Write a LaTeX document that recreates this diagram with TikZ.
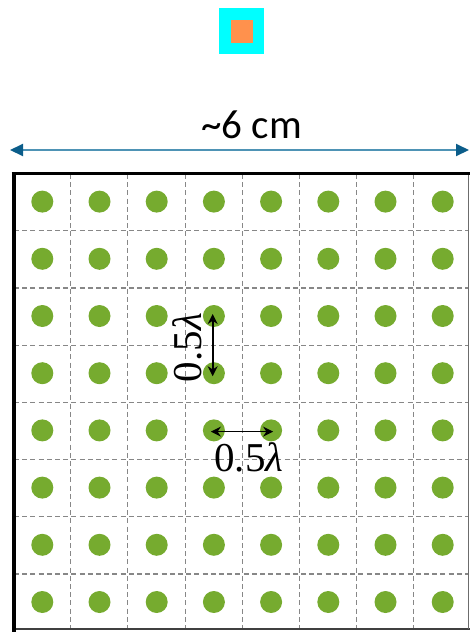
\documentclass[tikz,border=0pt]{standalone}
\usepackage{fontspec}
\usetikzlibrary{arrows.meta}
\newfontfamily\calfont{Carlito}
\newfontfamily\serffont{Liberation Serif}
\definecolor{dotgreen}{RGB}{118,171,47}
\definecolor{gridgray}{RGB}{135,135,135}
\definecolor{dimline}{RGB}{78,147,181}
\definecolor{dimtip}{RGB}{11,93,138}
\definecolor{iconcyan}{RGB}{0,255,255}
\definecolor{iconorange}{RGB}{255,145,77}
\begin{document}
\begin{tikzpicture}[x=0.5pt,y=-0.5pt,
  dot/.style={circle,fill=dotgreen,draw=none,inner sep=0pt,minimum size=11pt},
  gridline/.style={gridgray,line width=0.55pt,dash pattern=on 2.5pt off 1.6pt},
  dimarrow/.style={dimline,line width=1pt,{Triangle[length=6.5pt,width=6pt,color=dimtip]}-{Triangle[length=6.5pt,width=6pt,color=dimtip]}},
  spacing/.style={black,line width=0.8pt,{Stealth[length=5pt,width=5pt]}-{Stealth[length=5pt,width=5pt]}},
  lamlabel/.style={font=\serffont\fontsize{20.5}{24}\selectfont,inner sep=0pt},
  widthlabel/.style={font=\calfont\fontsize{20.5}{24}\selectfont,inner sep=0pt}]
\useasboundingbox (0,0) rectangle (470,632);
% icon
\node[draw=none,fill=iconcyan,minimum width=22.5pt,minimum height=23pt,inner sep=0pt] (icon) at (241.8,31.3) {};
\node[draw=none,fill=iconorange,minimum width=11.2pt,minimum height=11.6pt,inner sep=0pt] (core) at (242.2,31.7) {};
% width dimension
\coordinate (dl) at (10,150);
\coordinate (dr) at (469,150);
\draw[dimarrow] (dl) -- (dr);
\node[widthlabel,anchor=base] (wl) at (251.7,138.3) {\~{}6 cm};
% grid lines
\foreach \k in {0,...,6}{
  \draw[gridline] ({70.7+57.2*\k},174) -- ({70.7+57.2*\k},629);
  \draw[gridline] (14,{230.8+57.2*\k}) -- (469,{230.8+57.2*\k});
}
% frame
\draw[black!75,line width=1pt] (13,629.3) -- (470,629.3);
\draw[gridgray!80!black,line width=0.6pt] (468.5,173) -- (468.5,629.3);
\draw[black,line width=1.6pt] (11.7,173.3) -- (470,173.3);
\draw[black,line width=2pt] (13.7,172) -- (13.7,632);
% dots
\foreach \i in {0,...,7}{
  \foreach \j in {0,...,7}{
    \node[dot] (d-\i-\j) at ({42.3+57.2*\i},{201.6+57.2*\j}) {};
  }
}
% spacing annotations
\draw[spacing] ([xshift=-0.6pt,yshift=1pt]d-3-2.center) -- ([xshift=-0.6pt,yshift=-1.5pt]d-3-3.center);
\node[lamlabel,rotate=90] (vl) at (187.5,347.5) {0.5\textit{λ}};
\draw[spacing] ([xshift=-1.5pt,yshift=-0.6pt]d-3-4.center) -- ([xshift=1pt,yshift=-0.6pt]d-4-4.center);
\node[lamlabel,anchor=base] (hl) at (249,471.5) {0.5\textit{λ}};
\end{tikzpicture}
\end{document}
